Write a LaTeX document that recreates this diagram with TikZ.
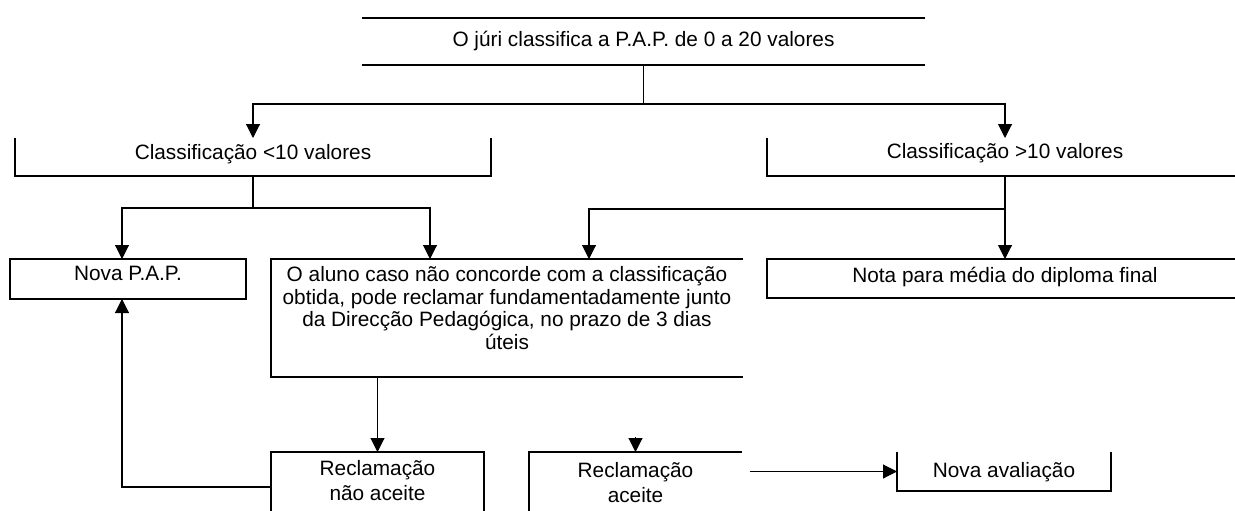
\documentclass[tikz,border=0pt]{standalone}
\usepackage{fontspec}
\setmainfont{Liberation Sans}
\usetikzlibrary{arrows.meta}

% text block of a given width and height, set from the top
\newcommand{\boxtext}[4]{\parbox[c][#2][t]{#1}{\centering\vspace*{#3}\strut#4}}

\begin{document}
\begin{tikzpicture}[
    x=1pt, y=-1pt,
    cell/.style={inner sep=0pt, outer sep=0pt, font=\fontsize{20.8}{22.5}\selectfont},
    side/.style={line width=1.1pt},
    arr/.style={line width=1.1pt, -{Triangle[length=14pt,width=14pt]}}
  ]
  \useasboundingbox (0,0) rectangle (1235,511);

  \node[cell] (jury) at (643.5,41.5)
    {\boxtext{563pt}{47pt}{13pt}{O júri classifica a P.A.P. de 0 a 20 valores}};
  \node[cell] (lt10) at (253,157)
    {\boxtext{476pt}{38pt}{6pt}{Classificação <10 valores}};
  \node[cell] (gt10) at (1005,157)
    {\boxtext{476pt}{38pt}{5pt}{Classificação >10 valores}};
  \node[cell] (nova) at (128,279)
    {\boxtext{236pt}{40pt}{6pt}{Nova P.A.P.}};
  \node[cell] (aluno) at (507,318)
    {\boxtext{472pt}{118pt}{7pt}{O aluno caso não concorde com a classificação\\
      obtida, pode reclamar fundamentadamente junto\\
      da Direcção Pedagógica, no prazo de 3 dias\\
      úteis}};
  \node[cell] (nota) at (1005,278.5)
    {\boxtext{476pt}{39pt}{8pt}{Nota para média do diploma final}};
  \node[cell] (nao) at (377.5,487)
    {\boxtext{213pt}{70pt}{8pt}{Reclamação\\[2.5pt]não aceite}};
  \node[cell] (aceite) at (635.5,487)
    {\boxtext{213pt}{70pt}{10pt}{Reclamação\\[2.5pt]aceite}};
  \node[cell] (aval) at (1004,471.5)
    {\boxtext{214pt}{39pt}{10pt}{Nova avaliação}};

  % box sides
  \draw[side] (jury.north west) -- (jury.north east) (jury.south west) -- (jury.south east);
  \draw[side] (lt10.north west) -- (lt10.south west) -- (lt10.south east) -- (lt10.north east);
  \draw[side] (gt10.north west) -- (gt10.south west) -- (gt10.south east);
  \draw[side] (nova.north west) rectangle (nova.south east);
  \draw[side] (aluno.north east) -- (aluno.north west) -- (aluno.south west) -- (aluno.south east);
  \draw[side] (nota.north east) -- (nota.north west) -- (nota.south west) -- (nota.south east);
  \draw[side] (nao.south west) -- (nao.north west) -- (nao.north east) -- (nao.south east);
  \draw[side] (aceite.south west) -- (aceite.north west) -- (aceite.north east);
  \draw[side] (aval.north west) -- (aval.south west) -- (aval.south east) -- (aval.north east);

  % connectors
  \draw[side] (jury.south) -- ++(0,39) coordinate (jsplit);
  \draw[arr] (jsplit) -| (lt10.north);
  \draw[arr] (jsplit) -| (gt10.north);

  \draw[side] (lt10.south) -- ++(0,32) coordinate (lsplit);
  \draw[arr] (lsplit) -| ([xshift=-6pt]nova.north);
  \draw[arr] (lsplit) -| ([xshift=159pt]aluno.north west);

  \coordinate (gsplit) at ([yshift=-33pt]gt10.south);
  \draw[arr] (gt10.south) -- (nota.north);
  \draw[arr] (gsplit) -| ([xshift=318pt]aluno.north west);

  \draw[arr] (aluno.south -| nao.north) -- (nao.north);
  \draw[arr] (nao.west) -| ([xshift=-6pt]nova.south);
  \draw[arr] ([yshift=15pt]aceite.north) -- (aceite.north);
  \draw[arr] ([xshift=8pt]aceite.east |- aval.west) -- (aval.west);
\end{tikzpicture}
\end{document}
